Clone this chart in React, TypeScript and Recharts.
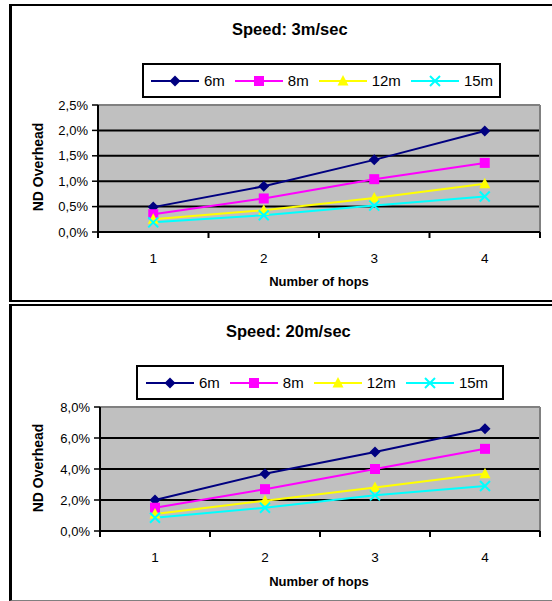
import React from 'react';
import { LineChart, Line, XAxis, YAxis, CartesianGrid, ReferenceLine } from 'recharts';

const hops = [1, 2, 3, 4];
const seriesNames = ['6m', '8m', '12m', '15m'];
const seriesColors = ['#000080', '#FF00FF', '#FFFF00', '#00FFFF'];
const seriesShapes = ['diamond', 'square', 'triangle', 'cross'];

// ND overhead (%) at 3 m/sec
const slow6m = [0.49, 0.9, 1.42, 1.99];
const slow8m = [0.35, 0.66, 1.04, 1.36];
const slow12m = [0.25, 0.43, 0.67, 0.95];
const slow15m = [0.19, 0.33, 0.52, 0.7];
const slowTicks = [0, 0.5, 1, 1.5, 2, 2.5];

// ND overhead (%) at 20 m/sec
const fast6m = [2.0, 3.7, 5.1, 6.6];
const fast8m = [1.5, 2.7, 4.0, 5.3];
const fast12m = [1.1, 1.95, 2.8, 3.7];
const fast15m = [0.85, 1.5, 2.3, 2.9];
const fastTicks = [0, 2, 4, 6, 8];

const hopTicks = [0.5, 1, 1.5, 2, 2.5, 3, 3.5, 4, 4.5];

const font = "Arial, 'Liberation Sans', Helvetica, sans-serif";

function buildRows(series: number[][]) {
  return hops.map((h, i) => {
    const row: any = { hops: h };
    series.forEach((s, k) => {
      row[seriesNames[k]] = s[i];
    });
    return row;
  });
}

function Marker({ shape, cx, cy, color }: { shape: string; cx: number; cy: number; color: string }) {
  if (shape === 'diamond')
    return <polygon points={`${cx},${cy - 5.5} ${cx + 5.5},${cy} ${cx},${cy + 5.5} ${cx - 5.5},${cy}`} fill={color} />;
  if (shape === 'square') return <rect x={cx - 5} y={cy - 5} width={10} height={10} fill={color} />;
  if (shape === 'triangle')
    return <polygon points={`${cx},${cy - 6} ${cx + 5.5},${cy + 4.5} ${cx - 5.5},${cy + 4.5}`} fill={color} />;
  return (
    <path
      d={`M${cx - 5},${cy - 5}L${cx + 5},${cy + 5}M${cx + 5},${cy - 5}L${cx - 5},${cy + 5}`}
      stroke={color}
      strokeWidth={2}
    />
  );
}

const renderHopTick = (props: any) => {
  const { x, y, payload } = props;
  if (payload.value % 1 !== 0) {
    return <line x1={x} x2={x} y1={y} y2={y + 6} stroke="#000" strokeWidth={2} />;
  }
  return (
    <text x={x} y={y + 31} textAnchor="middle" fontSize={13.5} fill="#000">
      {payload.value}
    </text>
  );
};

const pct = (v: number) => v.toFixed(1).replace('.', ',') + '%';

function LegendBox({ left, top, width, pad }: { left: number; top: number; width: number; pad: number }) {
  return (
    <div
      style={{
        position: 'absolute',
        left,
        top,
        width,
        height: 35,
        border: '2px solid #000',
        boxSizing: 'border-box',
        display: 'flex',
        alignItems: 'center',
        paddingLeft: pad,
        background: '#fff',
      }}
    >
      {seriesNames.map((name, i) => (
        <div key={name} style={{ display: 'flex', alignItems: 'center', marginRight: 10 }}>
          <svg width={48} height={14} style={{ display: 'block' }}>
            <line x1={0} x2={48} y1={7} y2={7} stroke={seriesColors[i]} strokeWidth={2} />
            <Marker shape={seriesShapes[i]} cx={24} cy={7} color={seriesColors[i]} />
          </svg>
          <span style={{ marginLeft: 5, fontSize: 15, lineHeight: '15px' }}>{name}</span>
        </div>
      ))}
    </div>
  );
}

function SpeedChart({
  top,
  rows,
  yTicks,
  margin,
}: {
  top: number;
  rows: any[];
  yTicks: number[];
  margin: { top: number; right: number; bottom: number; left: number };
}) {
  const yMax = yTicks[yTicks.length - 1];
  return (
    <div style={{ position: 'absolute', left: 0, top }}>
      <LineChart width={552} height={300} data={rows} margin={margin}>
        <CartesianGrid vertical={false} stroke="#000" strokeWidth={2} fill="#C0C0C0" fillOpacity={1} />
        <XAxis
          type="number"
          dataKey="hops"
          domain={[0.5, 4.5]}
          ticks={hopTicks}
          interval={0}
          tickSize={0}
          tickMargin={0}
          tickLine={false}
          tick={renderHopTick}
          height={40}
          axisLine={{ stroke: '#000', strokeWidth: 2 }}
        />
        <YAxis
          type="number"
          domain={[0, yMax]}
          ticks={yTicks}
          interval={0}
          width={60}
          tickSize={6}
          tickMargin={4}
          tickFormatter={pct}
          tick={{ fill: '#000', fontSize: 13 }}
          tickLine={{ stroke: '#000', strokeWidth: 1.5 }}
          axisLine={{ stroke: '#000', strokeWidth: 2 }}
        />
        <ReferenceLine y={yMax} stroke="#808080" strokeWidth={2} />
        <ReferenceLine x={4.5} stroke="#808080" strokeWidth={2} />
        {seriesNames.map((name, i) => (
          <Line
            key={name}
            type="linear"
            dataKey={name}
            stroke={seriesColors[i]}
            strokeWidth={2}
            activeDot={false}
            isAnimationActive={false}
            dot={(p: any) => (
              <Marker key={`${name}-${p.index}`} shape={seriesShapes[i]} cx={p.cx} cy={p.cy} color={seriesColors[i]} />
            )}
          />
        ))}
      </LineChart>
    </div>
  );
}

function Titles({ title, titleLeft, titleTop, yCenter, xTitleTop }: any) {
  return (
    <>
      <div
        style={{
          position: 'absolute',
          left: titleLeft,
          top: titleTop,
          fontSize: 16.5,
          lineHeight: '16px',
          fontWeight: 'bold',
          whiteSpace: 'nowrap',
        }}
      >
        {title}
      </div>
      <div
        style={{
          position: 'absolute',
          left: 38,
          top: yCenter,
          transform: 'translate(-50%, -50%) rotate(-90deg)',
          fontSize: 14,
          lineHeight: '14px',
          fontWeight: 'bold',
          whiteSpace: 'nowrap',
        }}
      >
        ND Overhead
      </div>
      <div
        style={{
          position: 'absolute',
          left: 319,
          top: xTitleTop,
          transform: 'translateX(-50%)',
          fontSize: 13,
          lineHeight: '13px',
          fontWeight: 'bold',
          whiteSpace: 'nowrap',
        }}
      >
        Number of hops
      </div>
    </>
  );
}

export default function App() {
  const slowRows = buildRows([slow6m, slow8m, slow12m, slow15m]);
  const fastRows = buildRows([fast6m, fast8m, fast12m, fast15m]);
  return (
    <div
      style={{
        position: 'absolute',
        left: 0,
        top: 0,
        width: 552,
        height: 601,
        overflow: 'hidden',
        background: '#fff',
        fontFamily: font,
        color: '#000',
      }}
    >
      <div
        style={{
          position: 'absolute',
          left: 9,
          top: 4,
          width: 600,
          height: 298,
          boxSizing: 'border-box',
          border: '2px solid #000',
          borderLeft: '3px solid #000',
        }}
      />
      <div
        style={{
          position: 'absolute',
          left: 9,
          top: 304,
          width: 600,
          height: 297,
          boxSizing: 'border-box',
          borderTop: '2px solid #000',
          borderLeft: '3px solid #000',
          borderBottom: '1px solid #808080',
        }}
      />
      <SpeedChart top={0} rows={slowRows} yTicks={slowTicks} margin={{ top: 105, right: 12, bottom: 28, left: 38 }} />
      <SpeedChart top={300} rows={fastRows} yTicks={fastTicks} margin={{ top: 107, right: 12, bottom: 29, left: 40 }} />
      <Titles title="Speed: 3m/sec" titleLeft={232} titleTop={21} yCenter={167} xTitleTop={275} />
      <Titles title="Speed: 20m/sec" titleLeft={226} titleTop={323} yCenter={468} xTitleTop={575} />
      <LegendBox left={142} top={63} width={359} pad={7} />
      <LegendBox left={136} top={365} width={368} pad={8} />
    </div>
  );
}
